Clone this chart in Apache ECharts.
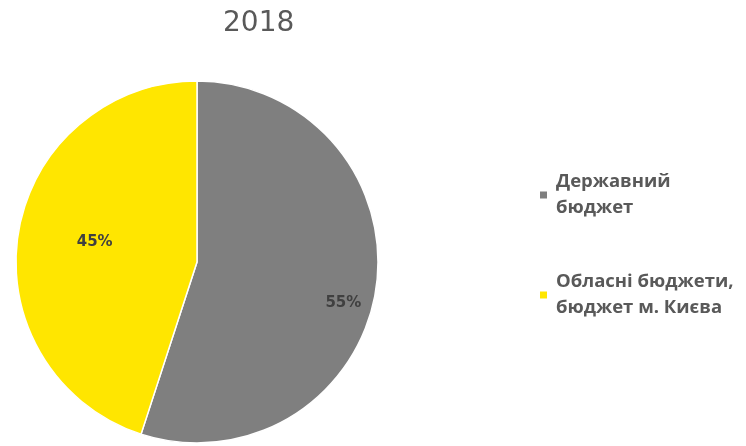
<!DOCTYPE html>
<html>
<head>
<meta charset="utf-8">
<script src="https://cdn.jsdelivr.net/npm/echarts@6/dist/echarts.min.js"></script>
<style>
html,body{margin:0;padding:0;background:#fff;}
#chart{width:746px;height:446px;}
</style>
</head>
<body>
<div id="chart"></div>
<script>
const title = '2018';
const categories = ['Державний\nбюджет', 'Обласні бюджети,\nбюджет м. Києва'];
const values = [55, 45];
const colors = ['#7f7f7f', '#ffe600'];
const labelShift = [[54, 26], [-10, -5]];

const chart = echarts.init(document.getElementById('chart'), null, {renderer: 'canvas'});
chart.setOption({
  animation: false,
  backgroundColor: '#ffffff',
  title: {
    text: title,
    left: 223,
    top: 10,
    padding: 0,
    textStyle: {fontFamily: 'DejaVu Sans', fontSize: 28, fontWeight: 'normal', color: '#595959'}
  },
  legend: {
    orient: 'vertical',
    left: 540,
    top: 156,
    padding: 0,
    itemGap: 22,
    itemWidth: 7,
    itemHeight: 7,
    icon: 'rect',
    itemStyle: {borderWidth: 0},
    data: categories,
    textStyle: {
      fontFamily: 'Open Sans',
      fontWeight: 'bold',
      fontSize: 18.5,
      lineHeight: 26,
      color: '#595959',
      padding: [26, 0, 0, 4]
    }
  },
  series: [{
    type: 'pie',
    center: [197, 262],
    radius: 181,
    startAngle: 90,
    clockwise: true,
    avoidLabelOverlap: false,
    itemStyle: {borderColor: '#ffffff', borderWidth: 1.5},
    label: {
      show: true,
      position: 'inside',
      formatter: p => p.value + '%',
      fontFamily: 'DejaVu Sans',
      fontWeight: 'bold',
      fontSize: 15,
      color: '#404040'
    },
    labelLine: {show: false},
    labelLayout: p => ({dx: labelShift[p.dataIndex][0], dy: labelShift[p.dataIndex][1]}),
    emphasis: {disabled: true},
    data: categories.map((c, i) => ({name: c, value: values[i], itemStyle: {color: colors[i]}}))
  }]
});
</script>
</body>
</html>
